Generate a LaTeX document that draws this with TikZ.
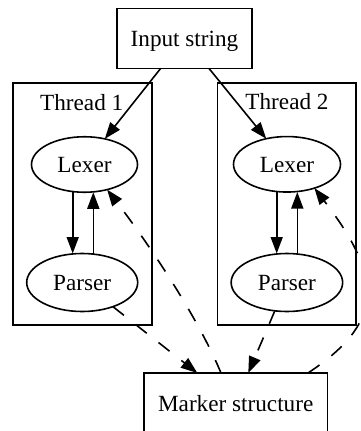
\documentclass[tikz,border=0pt]{standalone}
\usepackage{fontspec}
\setmainfont{Liberation Serif}
\usetikzlibrary{arrows.meta,shapes.geometric}
\begin{document}
\begin{tikzpicture}[x=1pt,y=-1pt,
  every node/.style={font=\fontsize{23.2pt}{27pt}\selectfont, inner sep=0pt, outer sep=0pt},
  ln/.style={line width=1.6pt},
  boxnode/.style={draw, ln, rectangle, text height=16.5pt, text depth=0pt},
  ellnode/.style={draw, ln, ellipse, text height=16.5pt, text depth=0pt},
  edgeline/.style={ln, -{Triangle[length=16.5pt,width=12pt]}},
  dashedge/.style={edgeline, dash pattern=on 14pt off 15pt},
  clusterbox/.style={draw, ln, rectangle}
]
\useasboundingbox (0,0) rectangle (361,431);
% clusters
\node[clusterbox, minimum width=139pt, minimum height=242pt] (cl1) at (82.4,204) {};
\node[clusterbox, minimum width=138.7pt, minimum height=242pt] (cl2) at (286.7,204) {};
\node[anchor=base] (t1) at (81.7,110) {Thread 1};
\node[anchor=base] (t2) at (287,109.5) {Thread 2};
% nodes
\node[boxnode, minimum width=135pt, minimum height=60pt] (input) at (184.5,38.3) {Input string};
\node[ellnode, minimum width=106pt, minimum height=55.5pt] (lex1) at (84.5,164.5) {Lexer};
\node[ellnode, minimum width=107pt, minimum height=55.5pt] (lex2) at (287,164.3) {Lexer};
\node[ellnode, minimum width=111pt, minimum height=58pt] (par1) at (82.2,282.5) {Parser};
\node[ellnode, minimum width=111.5pt, minimum height=58pt] (par2) at (286.9,282.5) {Parser};
\node[boxnode, minimum width=183.3pt, minimum height=60pt] (marker) at (235.7,403) {Marker structure};
% helper coordinates
\coordinate (xa) at (72.7,0);
\coordinate (xb) at (93.3,0);
\coordinate (xc) at (276.7,0);
\coordinate (xd) at (297.3,0);
\coordinate (xe) at (197.3,0);
\coordinate (xf) at (248.3,0);
\coordinate (xg) at (221,0);
\coordinate (xh) at (308,0);
\coordinate (c1a) at (196,313);
\coordinate (c1b) at (144.6,238.4);
\coordinate (c2a) at (382.7,323.5);
\coordinate (c2b) at (385,280);
% edges
\draw[edgeline] (input) -- (lex1);
\draw[edgeline] (input) -- (lex2);
\draw[edgeline] (lex1.south -| xa) -- (par1.north -| xa);
\draw[edgeline] (par1.north -| xb) -- (lex1.south -| xb);
\draw[edgeline] (lex2.south -| xc) -- (par2.north -| xc);
\draw[edgeline] (par2.north -| xd) -- (lex2.south -| xd);
\draw[dashedge] (par1) -- (marker.north -| xe);
\draw[dashedge] (par2) -- (marker.north -| xf);
\draw[dashedge] (marker.north -| xg) .. controls (c1a) and (c1b) .. (lex1.-48);
\draw[dashedge] (marker.north -| xh) .. controls (c2a) and (c2b) .. (lex2.-41);
\end{tikzpicture}
\end{document}
